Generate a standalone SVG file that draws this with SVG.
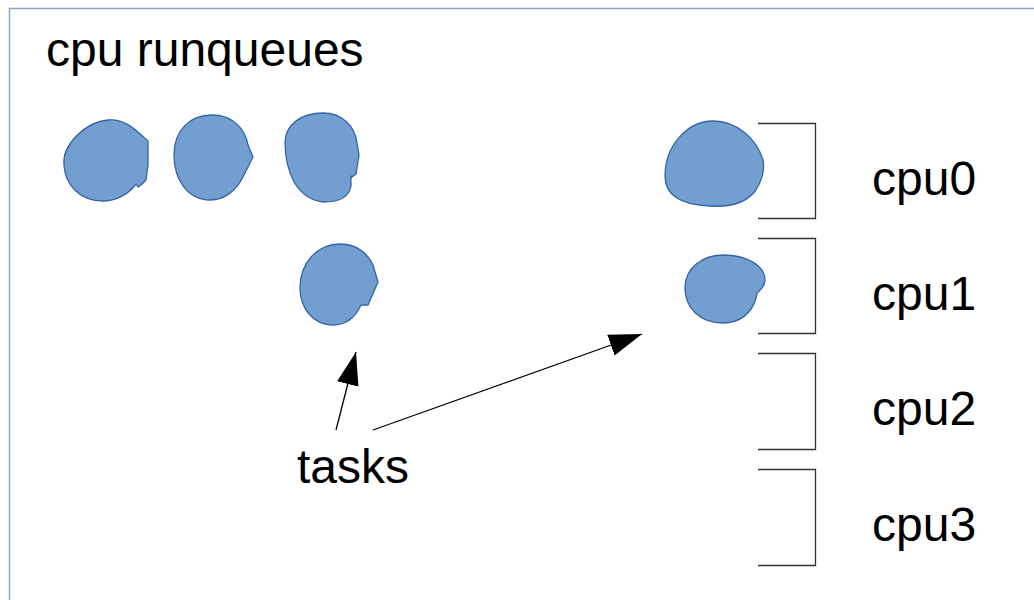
<svg xmlns="http://www.w3.org/2000/svg" width="1034" height="600" viewBox="0 0 1034 600">
  <style>
    .label { font-family: "Liberation Sans", Arial, sans-serif; font-size: 48px; fill: #000; }
    .task { fill: #729fcf; stroke: #3465a4; stroke-width: 1.3; stroke-linejoin: round; }
    .bracket { fill: none; stroke: #333; stroke-width: 1.3; }
    .conn { fill: none; stroke: #000; stroke-width: 1.3; }
  </style>
  <defs>
    <marker id="arrow" markerUnits="userSpaceOnUse" markerWidth="34" markerHeight="24" refX="33" refY="12" orient="auto">
      <path d="M0,1 L33,12 L0,23 Z" fill="#000"/>
    </marker>
  </defs>
  <rect width="1034" height="600" fill="#fff"/>
  <!-- outer frame -->
  <rect x="9.5" y="8.5" width="1100" height="700" fill="none" stroke="#8aa3c8" stroke-width="1.5"/>

  <g id="title">
    <text class="label" x="46" y="66">cpu runqueues</text>
  </g>

  <!-- waiting tasks -->
  <g id="task1">
    <path class="task" d="M64,165 C62,145 85,122 108,120 C125,118 138,132 148,141 L148,165 L146,180 L141,185 L138,187 L136,184 C128,195 115,201 103,201 C80,201 65,185 64,165 Z"/>
  </g>
  <g id="task2">
    <path class="task" d="M174,155 C174,130 190,115 212,115 C232,115 245,128 248,145 L253,157 L245,173 L244,175 C237,190 225,200 210,200 C188,200 174,180 174,155 Z"/>
  </g>
  <g id="task3">
    <path class="task" d="M285,143 C285,124 302,113 323,113 C343,113 355,127 357,143 L359,155 L356,174 L352,177 L351,176 L351,186 C349,198 337,202 324,202 C310,201 300,192 294,182 C288,170 285,156 285,143 Z"/>
  </g>
  <g id="task4">
    <path class="task" d="M300,288 C300,262 318,244 340,244 C357,244 368,254 373,265 L378,282 L368,305 L361,305 C355,318 345,325 333,325 C313,325 300,308 300,288 Z"/>
  </g>

  <!-- tasks on runqueues -->
  <g id="task-cpu0">
    <path class="task" d="M665,176 C665,145 688,121 713,121 C738,121 757,140 763,160 C765,170 762,180 756,190 C745,205 725,207 710,206 C685,205 665,198 665,176 Z"/>
  </g>
  <g id="task-cpu1">
    <path class="task" d="M685,288 C685,268 702,255 724,255 C745,255 765,265 765,280 C765,287 760,290 757,293 L756,298 C752,313 740,323 723,323 C700,323 685,308 685,288 Z"/>
  </g>

  <!-- runqueue brackets -->
  <g id="cpu0">
    <path class="bracket" d="M758,123.5 H815.5 V218.5 H758"/>
    <text class="label" x="872" y="195">cpu0</text>
  </g>
  <g id="cpu1">
    <path class="bracket" d="M758,238.5 H815.5 V333.5 H758"/>
    <text class="label" x="872" y="310">cpu1</text>
  </g>
  <g id="cpu2">
    <path class="bracket" d="M758,353.5 H815.5 V449.5 H758"/>
    <text class="label" x="872" y="425">cpu2</text>
  </g>
  <g id="cpu3">
    <path class="bracket" d="M758,469.5 H815.5 V565.5 H758"/>
    <text class="label" x="872" y="541">cpu3</text>
  </g>

  <g id="tasks-label">
    <text class="label" x="297" y="483">tasks</text>
  </g>

  <g id="connectors">
    <line class="conn" x1="336" y1="430" x2="356" y2="352" marker-end="url(#arrow)"/>
    <line class="conn" x1="373" y1="430" x2="642" y2="334" marker-end="url(#arrow)"/>
  </g>
</svg>
